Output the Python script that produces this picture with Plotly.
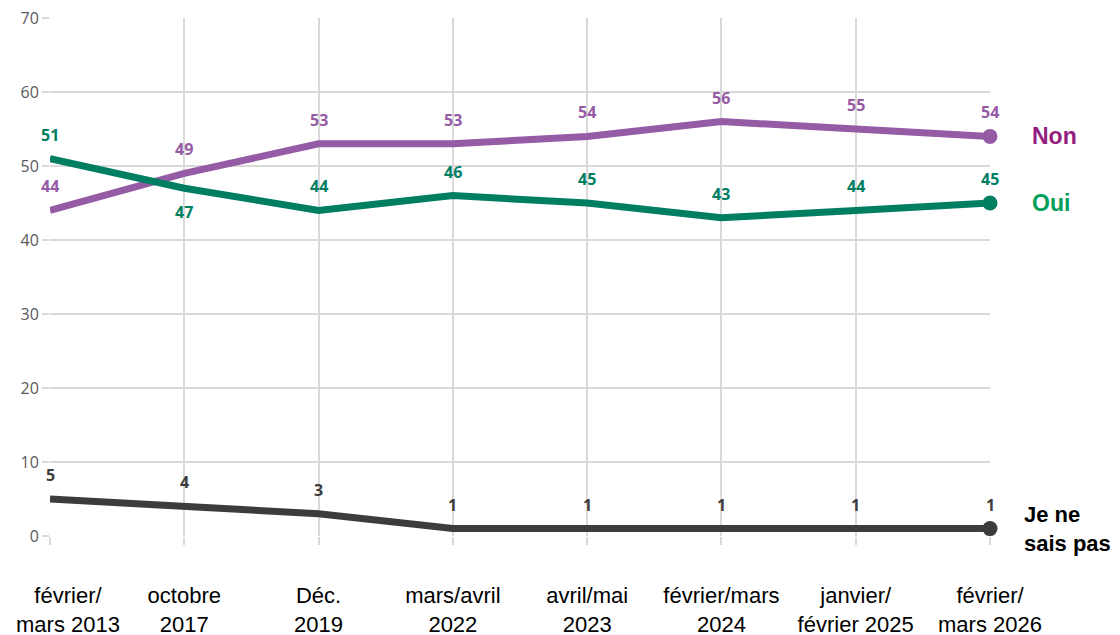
import plotly.graph_objects as go

# periodes
periodes = ['février/<br>mars 2013', 'octobre<br>2017', 'Déc.<br>2019', 'mars/avril<br>2022',
            'avril/mai<br>2023', 'février/mars<br>2024', 'janvier/<br>février 2025', 'février/<br>mars 2026']

non = [44, 49, 53, 53, 54, 56, 55, 54]
oui = [51, 47, 44, 46, 45, 43, 44, 45]
nsp = [5, 4, 3, 1, 1, 1, 1, 1]

# position des etiquettes (1 = dessus, -1 = dessous)
pos_oui = [1, -1, 1, 1, 1, 1, 1, 1]

x = list(range(len(periodes)))

police_x = dict(family='Liberation Sans', size=22, color='#000000')

# le premier libelle est pose a part, decale vers la droite pour rester dans le cadre
ticktext = [''] + periodes[1:]

series = [
    ('Non', non, '#955BA5', '#93207F', [1] * len(non)),
    ('Oui', oui, '#007E62', '#00A05A', pos_oui),
    ('Je ne<br>sais pas', nsp, '#3D3B3C', '#000000', [1] * len(nsp)),
]

fig = go.Figure()
annots = []
for nom, vals, couleur, couleur_nom, pos in series:
    fig.add_trace(go.Scatter(
        x=x, y=vals, mode='lines',
        line=dict(color=couleur, width=7),
        showlegend=False, hoverinfo='skip'
    ))
    # point final
    fig.add_trace(go.Scatter(
        x=[x[-1]], y=[vals[-1]], mode='markers',
        marker=dict(size=15, color=couleur, opacity=1, line=dict(width=0)),
        showlegend=False, hoverinfo='skip', cliponaxis=False
    ))
    for xi, v, p in zip(x, vals, pos):
        annots.append(dict(
            x=xi, y=v, text=f'<b>{v}</b>', showarrow=False,
            yshift=24 * p, font=dict(family='Open Sans', size=16, color=couleur)
        ))
    annots.append(dict(
        x=x[-1], y=vals[-1], text=f'<b>{nom}</b>', showarrow=False,
        xanchor='left', align='left', xshift=32 if nom.startswith('Je') else 40,
        font=dict(family='Liberation Sans', size=23 if len(nom) < 5 else 22, color=couleur_nom)
    ))

annots.append(dict(
    x=x[0], y=0, xref='x', yref='paper', text=periodes[0], showarrow=False,
    xanchor='center', yanchor='top', xshift=18, yshift=-45,
    font=police_x
))

fig.update_layout(
    width=1120, height=635,
    margin=dict(l=42, r=138, t=10, b=107, autoexpand=False),
    plot_bgcolor='white', paper_bgcolor='white',
    annotations=annots,
    xaxis=dict(
        range=[0, 7], tickmode='array', tickvals=x, ticktext=ticktext,
        showgrid=True, gridcolor='#D9D9D9', gridwidth=2, zeroline=False,
        ticks='outside', ticklen=8, tickcolor='#D9D9D9', tickwidth=2,
        ticklabelstandoff=32, automargin=False, ticklabeloverflow='allow',
        tickfont=police_x
    ),
    yaxis=dict(
        range=[0, 70], dtick=10, automargin=False, ticklabeloverflow='allow',
        showgrid=True, gridcolor='#D9D9D9', gridwidth=2, zeroline=False,
        ticks='outside', ticklen=7, tickcolor='#D9D9D9', tickwidth=2,
        tickfont=dict(family='Open Sans', size=16, color='#595959')
    ),
)

fig.write_html('out.html')
